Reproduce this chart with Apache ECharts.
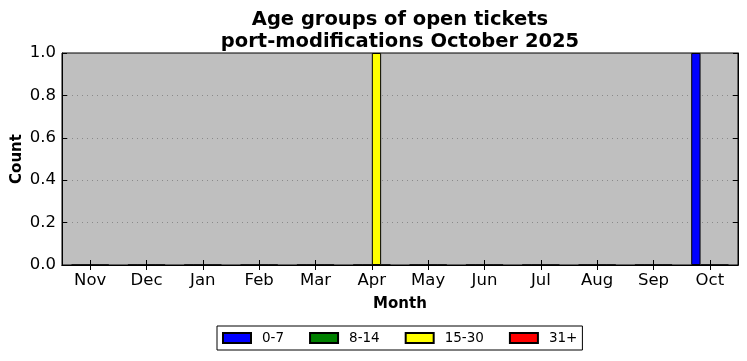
<!DOCTYPE html>
<html>
<head>
<meta charset="utf-8">
<script src="https://cdn.jsdelivr.net/npm/echarts@6/dist/echarts.min.js"></script>
<style>html,body{margin:0;padding:0;background:#fff}#c{width:747px;height:361px}</style>
</head>
<body>
<div id="c"></div>
<script>
const months = ["Nov","Dec","Jan","Feb","Mar","Apr","May","Jun","Jul","Aug","Sep","Oct"];
const age0to7 = [0,0,0,0,0,0,0,0,0,0,0,1];
const age8to14 = [0,0,0,0,0,0,0,0,0,0,0,0];
const age15to30 = [0,0,0,0,0,1,0,0,0,0,0,0];
const age31plus = [0,0,0,0,0,0,0,0,0,0,0,0];
const yTicks = [0,0.2,0.4,0.6,0.8,1.0];

const FONT = 'DejaVu Sans';
const chart = echarts.init(document.getElementById('c'), null, {renderer:'canvas'});
function bar(name, data, color){
  return {name, type:'bar', data, barWidth:9.3, barGap:'0%',
    itemStyle:{color, borderColor:'#000', borderWidth:1}, animation:false};
}
chart.setOption({
  animation:false,
  backgroundColor:'#fff',
  title:{text:'Age groups of open tickets\nport-modifications October 2025', left:395, textAlign:'center', top:4,
    textStyle:{fontFamily:FONT, fontWeight:'bold', fontSize:19.5, color:'#000', lineHeight:22}},
  grid:{left:62, top:53, width:676, height:212, containLabel:false, outerBoundsMode:'none',
    show:true, backgroundColor:'#bfbfbf', borderColor:'#000', borderWidth:1},
  legend:{bottom:11, left:217, data:['0-7','8-14','15-30','31+'],
    borderColor:'#000', borderWidth:1, padding:[5,5,5,5], itemWidth:28, itemHeight:10, itemGap:25,
    icon:'rect',
    textStyle:{fontFamily:FONT, fontSize:13.5, color:'#000', padding:[0,0,0,6]}},
  xAxis:[{type:'category', data:months, position:'bottom', name:'Month', nameLocation:'middle', nameGap:32,
    nameMoveOverlap:false,
    nameTextStyle:{fontFamily:FONT, fontWeight:'bold', fontSize:15, color:'#000'},
    axisLine:{show:true, lineStyle:{color:'#000'}},
    axisTick:{show:true, inside:true, alignWithLabel:true, length:5, lineStyle:{color:'#000'}},
    axisLabel:{fontFamily:FONT, fontSize:16.5, color:'#000', margin:7, interval:0},
    splitLine:{show:false}},
   {type:'category', data:months, position:'top',
    axisLine:{show:true, lineStyle:{color:'#000'}},
    axisTick:{show:true, inside:true, alignWithLabel:true, length:5, lineStyle:{color:'#000'}},
    axisLabel:{show:false}, splitLine:{show:false}}],
  yAxis:[{type:'value', min:0, max:1, interval:0.2, name:'Count', nameLocation:'middle', nameGap:37,
    nameMoveOverlap:false,
    nameTextStyle:{fontFamily:FONT, fontWeight:'bold', fontSize:15, color:'#000'},
    axisLine:{show:true, lineStyle:{color:'#000'}},
    axisTick:{show:true, inside:true, length:5, lineStyle:{color:'#000'}},
    axisLabel:{fontFamily:FONT, fontSize:16.5, color:'#000', margin:6,
      formatter:v=>{const t=yTicks.find(x=>Math.abs(x-v)<1e-9); return (t===undefined?v:t).toFixed(1);}},
    splitLine:{show:true, showMinLine:false, showMaxLine:false, lineStyle:{color:'#8a8a8a', type:[1,4], width:1}}},
   {type:'value', min:0, max:1, interval:0.2, position:'right',
    axisLine:{show:true, lineStyle:{color:'#000'}},
    axisTick:{show:true, inside:true, length:5, lineStyle:{color:'#000'}},
    axisLabel:{show:false}, splitLine:{show:false}}],
  series:[bar('0-7',age0to7,'#0000ff'), bar('8-14',age8to14,'#008000'),
          bar('15-30',age15to30,'#ffff00'), bar('31+',age31plus,'#ff0000')]
});
</script>
</body>
</html>
